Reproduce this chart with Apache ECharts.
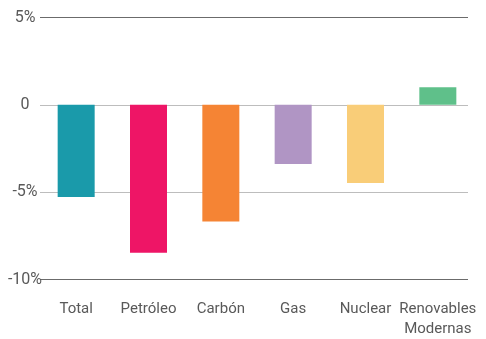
<!DOCTYPE html>
<html>
<head>
<meta charset="utf-8">
<script src="https://cdn.jsdelivr.net/npm/echarts@6/dist/echarts.min.js"></script>
<style>html,body{margin:0;padding:0;background:#fff}#c{width:486px;height:339px}</style>
</head>
<body>
<div id="c"></div>
<script>
const categories = ['Total', 'Petróleo', 'Carbón', 'Gas', 'Nuclear', 'Renovables\nModernas'];
const values = [-5.3, -8.5, -6.7, -3.4, -4.5, 1.0];
const barColors = ['#1a9aaa', '#ee1566', '#f58434', '#b095c4', '#f9cd78', '#5fc08a'];
const yTicks = [-10, -5, 0, 5];
const yTickLabels = {'-10': '-10%', '-5': '-5%', '0': '0', '5': '5%'};

const FONT = "'Roboto', sans-serif";
const chart = echarts.init(document.getElementById('c'));
chart.setOption({
  animation: false,
  grid: [
    {left: 40, width: 428, top: 17.5, height: 262},
    {left: 40, width: 434, top: 17.5, height: 262}
  ],
  xAxis: [
    {type: 'category', gridIndex: 0, data: categories, show: false},
    {type: 'category', gridIndex: 1, data: categories,
     axisLine: {show: false}, axisTick: {show: false},
     axisLabel: {color: '#595959', fontFamily: FONT, fontSize: 15, lineHeight: 20, margin: 20, interval: 0}}
  ],
  yAxis: [
    {type: 'value', gridIndex: 0, min: yTicks[0], max: yTicks[yTicks.length - 1], interval: 5,
     axisLine: {show: false}, axisTick: {show: false},
     axisLabel: {color: '#595959', fontFamily: FONT, fontSize: 16, align: 'center', margin: 15,
       formatter: v => yTickLabels[String(v)]},
     splitLine: {lineStyle: {color: ['#6b6b6b', '#bdbdbd', '#bdbdbd', '#6b6b6b'], width: 1}}},
    {type: 'value', gridIndex: 1, min: yTicks[0], max: yTicks[yTicks.length - 1], interval: 5,
     show: false, splitLine: {show: false}}
  ],
  series: [{
    type: 'bar', xAxisIndex: 1, yAxisIndex: 1,
    barWidth: 37,
    data: values.map((v, i) => ({value: v, itemStyle: {color: barColors[i]}}))
  }]
});
</script>
</body>
</html>
